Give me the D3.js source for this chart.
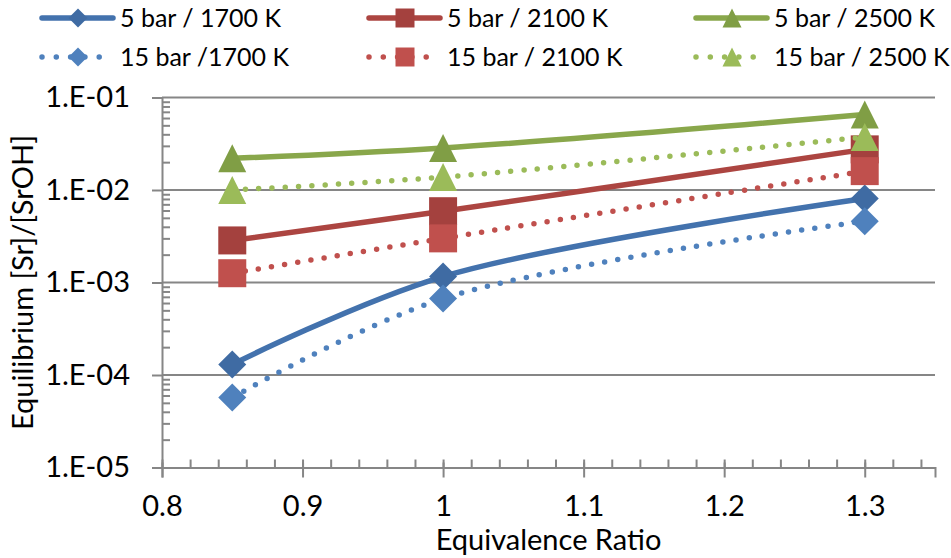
<!DOCTYPE html>
<html>
<head>
<meta charset="utf-8">
<script src="https://cdnjs.cloudflare.com/ajax/libs/d3/7.8.5/d3.min.js"></script>
<style>
  body { margin: 0; background: #fff; }
  svg { display: block; font-family: Lato, "Open Sans", sans-serif; }
</style>
</head>
<body>
<div id="chart"></div>
<script>
// equivalence ratio values
const phi = [0.85, 1.0, 1.3];

// equilibrium [Sr]/[SrOH] per case
const p5_1700 = [1.3e-4, 1.16e-3, 8.1e-3];
const p5_2100 = [2.85e-3, 5.9e-3, 2.75e-2];
const p5_2500 = [2.2e-2, 2.85e-2, 6.55e-2];
const p15_1700 = [5.7e-5, 6.7e-4, 4.6e-3];
const p15_2100 = [1.26e-3, 3.0e-3, 1.6e-2];
const p15_2500 = [1.0e-2, 1.38e-2, 3.74e-2];

const seriesNames = ['5 bar / 1700 K', '5 bar / 2100 K', '5 bar / 2500 K',
  '15 bar /1700 K', '15 bar / 2100 K', '15 bar / 2500 K'];

const xTicks = [0.8, 0.9, 1.0, 1.1, 1.2, 1.3];
const yTicks = [1e-5, 1e-4, 1e-3, 1e-2, 1e-1];
const yTickLabels = ['1.E-05', '1.E-04', '1.E-03', '1.E-02', '1.E-01'];

const width = 951, height = 558;
const margin = { top: 97.5, right: 16, bottom: 90.5, left: 162 };

const series = [
  { name: seriesNames[0], values: p5_1700, line: '#4372AD', fill: '#3F6BA3', dotted: false, marker: 'diamond' },
  { name: seriesNames[1], values: p5_2100, line: '#AC4541', fill: '#A4413E', dotted: false, marker: 'square' },
  { name: seriesNames[2], values: p5_2500, line: '#89A74B', fill: '#809E45', dotted: false, marker: 'triangle' },
  { name: seriesNames[3], values: p15_1700, line: '#4F81BD', fill: '#4F81BD', dotted: true, marker: 'diamond' },
  { name: seriesNames[4], values: p15_2100, line: '#C0504D', fill: '#C0504D', dotted: true, marker: 'square' },
  { name: seriesNames[5], values: p15_2500, line: '#9BBB59', fill: '#9BBB59', dotted: true, marker: 'triangle' }
];

function markerPath(type, s) {
  const h = s / 2;
  if (type === 'diamond') return `M0,${-h}L${h},0L0,${h}L${-h},0Z`;
  if (type === 'square') return `M${-h},${-h}H${h}V${h}H${-h}Z`;
  return `M0,${-h}L${h},${h}L${-h},${h}Z`;
}

const svg = d3.select('#chart').append('svg')
  .attr('width', width)
  .attr('height', height);

const x = d3.scaleLinear()
  .domain([0.8, 1.35])
  .range([margin.left, width - margin.right]);

const y = d3.scaleLog()
  .domain([1e-5, 1e-1])
  .range([height - margin.bottom, margin.top]);

const gridColor = '#868686';

// horizontal gridlines
svg.append('g')
  .selectAll('line')
  .data(yTicks.slice(1))
  .join('line')
  .attr('x1', x(0.8))
  .attr('x2', x(1.35))
  .attr('y1', d => y(d))
  .attr('y2', d => y(d))
  .attr('stroke', gridColor)
  .attr('stroke-width', 2);

// minor log ticks on the y axis (inside)
const yMinor = [];
for (let e = -5; e < -1; e++) {
  for (let m = 2; m <= 9; m++) yMinor.push(m * Math.pow(10, e));
}
svg.append('g')
  .attr('transform', `translate(${x(0.8)},0)`)
  .call(d3.axisRight(y).tickValues(yMinor).tickSize(8).tickFormat(''))
  .call(g => g.select('.domain').remove())
  .call(g => g.selectAll('line').attr('stroke', gridColor).attr('stroke-width', 2));

// y axis
svg.append('g')
  .attr('transform', `translate(${x(0.8)},0)`)
  .call(d3.axisLeft(y).tickValues(yTicks).tickSize(10).tickPadding(22)
    .tickFormat((d, i) => yTickLabels[i]))
  .call(g => g.select('.domain').attr('stroke', gridColor).attr('stroke-width', 2))
  .call(g => g.selectAll('line').attr('stroke', gridColor).attr('stroke-width', 2))
  .call(g => g.selectAll('text')
    .attr('font-size', 29)
    .attr('font-family', 'Lato, sans-serif')
    .attr('fill', '#000'));

// minor ticks on the x axis (inside)
const xMinor = d3.range(0.8, 1.35, 0.02).map(v => +v.toFixed(2));
svg.append('g')
  .attr('transform', `translate(0,${y(1e-5)})`)
  .call(d3.axisTop(x).tickValues(xMinor).tickSize(8).tickFormat(''))
  .call(g => g.select('.domain').remove())
  .call(g => g.selectAll('line').attr('stroke', gridColor).attr('stroke-width', 2));

// x axis
svg.append('g')
  .attr('transform', `translate(0,${y(1e-5)})`)
  .call(d3.axisBottom(x).tickValues(xTicks).tickSize(10).tickPadding(18)
    .tickFormat(d3.format('')))
  .call(g => g.select('.domain').attr('stroke', gridColor).attr('stroke-width', 2))
  .call(g => g.selectAll('line').attr('stroke', gridColor).attr('stroke-width', 2).attr('y1', -5))
  .call(g => g.selectAll('text')
    .attr('font-size', 29)
    .attr('font-family', 'Lato, sans-serif')
    .attr('fill', '#000'));

// axis titles
svg.append('text')
  .attr('x', (x(0.8) + x(1.35)) / 2)
  .attr('y', 550)
  .attr('text-anchor', 'middle')
  .attr('font-size', 29)
  .text('Equivalence Ratio');

svg.append('text')
  .attr('transform', `translate(33,${(y(1e-5) + y(1e-1)) / 2}) rotate(-90)`)
  .attr('text-anchor', 'middle')
  .attr('font-size', 29)
  .text('Equilibrium [Sr]/[SrOH]');

// series lines and markers (smoothed like the original)
const line = d3.line()
  .x((d, i) => x(phi[i]))
  .y(d => y(d))
  .curve(d3.curveCatmullRom);

series.forEach(s => {
  const g = svg.append('g');
  g.append('path')
    .attr('d', line(s.values))
    .attr('fill', 'none')
    .attr('stroke', s.line)
    .attr('stroke-width', 5.5)
    .attr('stroke-linecap', 'round')
    .attr('stroke-dasharray', s.dotted ? '0 13.3' : null);

  g.selectAll('path.marker')
    .data(s.values)
    .join('path')
    .attr('class', 'marker')
    .attr('transform', (d, i) => `translate(${x(phi[i])},${y(d)})`)
    .attr('d', markerPath(s.marker, 28))
    .attr('fill', s.fill);
});

// legend, three columns by two rows
const legendCols = [42, 369, 696];
const legendRows = [18, 57];

series.forEach((s, i) => {
  const cx = legendCols[i % 3];
  const cy = legendRows[Math.floor(i / 3)];
  const g = svg.append('g').attr('transform', `translate(${cx},${cy})`);

  g.append('line')
    .attr('x1', 0)
    .attr('x2', s.dotted ? 58 : 71)
    .attr('stroke', s.line)
    .attr('stroke-width', 5.5)
    .attr('stroke-linecap', 'round')
    .attr('stroke-dasharray', s.dotted ? '0 14.3' : null);

  g.append('path')
    .attr('transform', 'translate(36,0)')
    .attr('d', markerPath(s.marker, 19))
    .attr('fill', s.fill);

  g.append('text')
    .attr('x', 78)
    .attr('y', 9)
    .attr('font-size', 25)
    .text(s.name);
});
</script>
</body>
</html>
